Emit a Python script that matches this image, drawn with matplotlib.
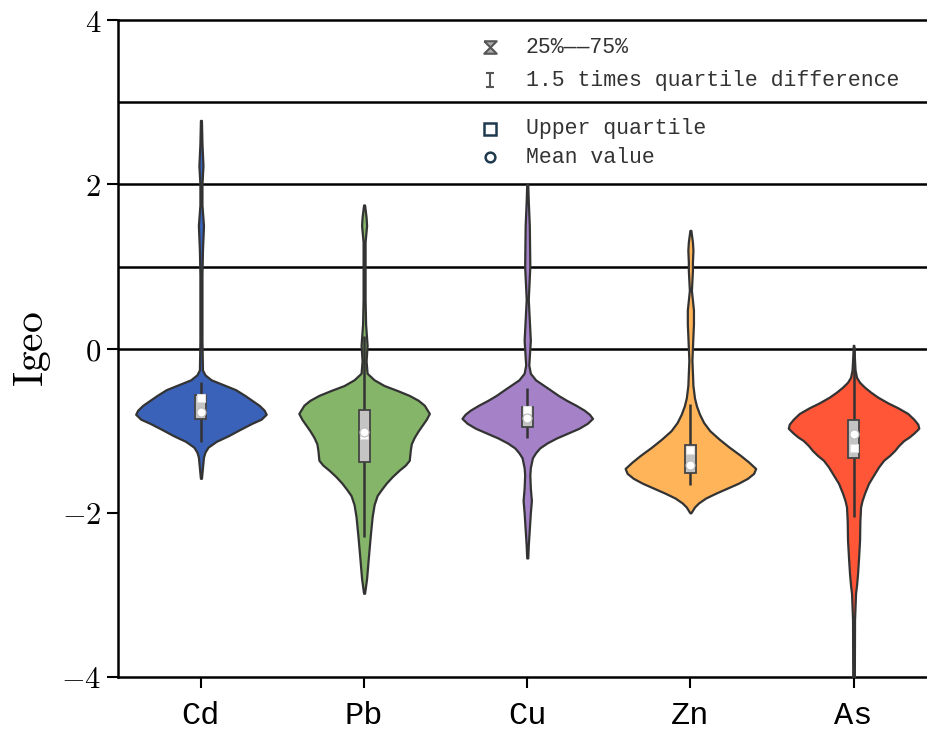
import matplotlib
matplotlib.use("Agg")
import matplotlib.pyplot as plt
import numpy as np
from matplotlib.path import Path

plt.rcParams['mathtext.fontset'] = 'cm'

elements = ["Cd", "Pb", "Cu", "Zn", "As"]
colors = ["#3A62B8", "#84B569", "#A582C8", "#FFB45A", "#FF5637"]

# density profile of each element: Igeo level -> relative density
cd_levels = [2.78, 2.5, 2.23, 2.0, 1.75, 1.5, 1.2, 0.9, 0.5, 0.1, -0.26, -0.32, -0.38, -0.44, -0.5,
             -0.57, -0.63, -0.69, -0.75, -0.8, -0.86, -0.91, -0.98, -1.06, -1.13, -1.2, -1.26,
             -1.32, -1.45, -1.58]
cd_density = [0.5, 1, 2, 1, 1, 2.5, 1.5, 1, 1, 1, 1.5, 4, 10, 22, 34,
              43, 50, 57, 62, 64, 59, 50, 39, 27, 15, 7, 4,
              2.5, 1.5, 0.5]

pb_levels = [1.75, 1.6, 1.5, 1.3, 1.0, 0.6, 0.3, 0.04, -0.15, -0.3, -0.38, -0.45, -0.51, -0.57,
             -0.63, -0.69, -0.79, -0.86, -0.93, -1.0, -1.08, -1.16, -1.24, -1.3, -1.36, -1.42,
             -1.48, -1.56, -1.64, -1.72, -1.79, -1.9, -2.05, -2.3, -2.58, -2.8, -2.98]
pb_density = [0.5, 2, 2.5, 1, 1, 1, 1.5, 3, 2, 3, 10, 20, 33, 45,
              54, 60, 65, 62, 58, 54, 50, 47, 46, 45.5, 45, 41,
              35, 28, 22, 17, 13, 10, 8, 6, 4, 2.5, 0.5]

cu_levels = [2.0, 1.8, 1.5, 1.0, 0.6, 0.1, -0.2, -0.3, -0.38, -0.44, -0.5, -0.57, -0.63, -0.69,
             -0.75, -0.8, -0.85, -0.91, -0.97, -1.03, -1.09, -1.15, -1.21, -1.27, -1.33, -1.45,
             -1.54, -1.7, -1.85, -2.0, -2.2, -2.4, -2.55]
cu_density = [0.5, 1, 2, 2.5, 1, 3, 1.5, 3, 8, 15, 22, 30, 38, 47,
              55, 60, 63, 58, 50, 39, 28, 19, 12, 8, 5, 3,
              2.5, 3, 4, 3, 2, 1, 0.5]

zn_levels = [1.44, 1.3, 1.2, 1.05, 0.95, 0.71, 0.47, 0.3, 0.16, -0.14, -0.45, -0.6, -0.7, -0.8,
             -0.9, -1.0, -1.1, -1.2, -1.3, -1.38, -1.46, -1.52, -1.58, -1.64, -1.7, -1.76,
             -1.82, -1.88, -1.93, -2.0]
zn_density = [0.5, 2, 2.5, 2, 2, 1, 3, 3, 2.5, 1.5, 2.5, 4, 6, 9,
              13, 19, 28, 38, 49, 57, 64, 62, 56, 47, 36, 25,
              15, 8, 4, 0.5]

as_levels = [0.04, -0.1, -0.26, -0.35, -0.41, -0.47, -0.53, -0.59, -0.66, -0.72, -0.79, -0.86,
             -0.92, -0.97, -1.03, -1.08, -1.12, -1.18, -1.24, -1.3, -1.36, -1.44, -1.52, -1.64,
             -1.76, -1.85, -1.93, -2.1, -2.33, -2.55, -2.74, -2.88, -2.98, -3.3, -4.0]
as_density = [0.3, 0.8, 1.5, 3, 6, 11, 17, 24, 34, 44, 54, 60,
              64, 65, 60, 55, 50, 45, 41, 36, 30, 25, 21, 15,
              11, 8.5, 7, 6.3, 6, 5, 4, 3, 2, 1, 0.8]

levels = [cd_levels, pb_levels, cu_levels, zn_levels, as_levels]
density = [cd_density, pb_density, cu_density, zn_density, as_density]

# box statistics
q1 = [-0.86, -1.38, -0.96, -1.52, -1.33]
q3 = [-0.57, -0.75, -0.71, -1.18, -0.87]
whisker_low = [-1.14, -2.3, -1.09, -1.66, -2.05]
whisker_high = [-0.41, 0.15, -0.48, -0.67, 0.02]
upper_marks = [-0.60, -1.05, -0.75, -1.24, -1.21]
means = [-0.77, -1.02, -0.85, -1.42, -1.04]

legend_labels = ["25%——75%", "1.5 times quartile difference", "Upper quartile", "Mean value"]
legend_rows = [3.67, 3.27, 2.68, 2.33]

fig = plt.figure(figsize=(9.27, 7.33), dpi=100)
ax = fig.add_axes([0.127, 0.0764, 0.88, 0.896])

pos = np.arange(len(elements))
vpstats = []
for lv, dn, m, med in zip(levels, density, means, upper_marks):
    vpstats.append({"coords": np.array(lv), "vals": np.array(dn, dtype=float),
                    "mean": m, "median": med, "min": min(lv), "max": max(lv)})
parts = ax.violin(vpstats, positions=pos, widths=0.8, showmeans=False,
                  showextrema=False, showmedians=False)
for body, c in zip(parts["bodies"], colors):
    body.set_facecolor(c)
    body.set_edgecolor("#333333")
    body.set_linewidth(1.6)
    body.set_alpha(1)
    body.set_zorder(3)

# whiskers, boxes and markers
ax.vlines(pos, whisker_low, whisker_high, color="#333333", lw=1.8, zorder=4)
ax.bar(pos, np.array(q3) - np.array(q1), bottom=q1, width=0.068, color="#C4C4C4",
       edgecolor="#444444", lw=1.3, zorder=5)
ax.plot(pos, upper_marks, ls="", marker="s", ms=6, mfc="white", mec="#DDDDDD", mew=0.8, zorder=6)
ax.plot(pos, means, ls="", marker="o", ms=6.5, mfc="white", mec="#BBBBBB", mew=0.8, zorder=6)

for yv in [3, 2, 1, 0]:
    ax.axhline(yv, color="black", lw=1.8, zorder=2)

# legend drawn by hand between the reference lines
hourglass = Path([(-1, 1), (1, 1), (-1, -1), (1, -1), (-1, 1)])
ibeam = Path([(-0.6, 1), (0.6, 1), (0, 1), (0, -1), (-0.6, -1), (0.6, -1)],
             [Path.MOVETO, Path.LINETO, Path.MOVETO, Path.LINETO, Path.MOVETO, Path.LINETO])
ax.plot([1.77], [legend_rows[0]], marker=hourglass, ms=9, mfc="#AAAAAA", mec="#555555", mew=1.5, ls="")
ax.plot([1.77], [legend_rows[1]], marker=ibeam, ms=10, mfc="none", mec="#555555", mew=1.5, ls="")
ax.plot([1.77], [legend_rows[2]], marker="s", ms=8, mfc="white", mec="#1F3A4D", mew=1.8, ls="")
ax.plot([1.77], [legend_rows[3]], marker="o", ms=7, mfc="white", mec="#1F3A4D", mew=1.8, ls="")
for yv, txt in zip(legend_rows, legend_labels):
    ax.text(1.99, yv, txt, fontsize=15.5, family="Liberation Mono", color="#333333",
            va="center", ha="left")

ax.set_xlim(-0.51, 4.49)
ax.set_ylim(-4, 4)
ax.set_xticks(pos)
ax.set_xticklabels(elements, fontsize=23, family="Liberation Mono")
ax.set_yticks([-4, -2, 0, 2, 4])
ax.set_yticklabels([r"$-4$", r"$-2$", r"$0$", r"$2$", r"$4$"], fontsize=22)
ax.set_ylabel(r"$\mathrm{Igeo}$", fontsize=30, labelpad=6)
ax.tick_params(axis="both", direction="out", length=8, width=1.5, colors="black")
ax.tick_params(axis="x", pad=9)
ax.tick_params(axis="y", pad=4)
for side in ["left", "bottom", "top", "right"]:
    ax.spines[side].set_linewidth(1.8)
    ax.spines[side].set_color("black")

fig.savefig("out.png", dpi=100)
